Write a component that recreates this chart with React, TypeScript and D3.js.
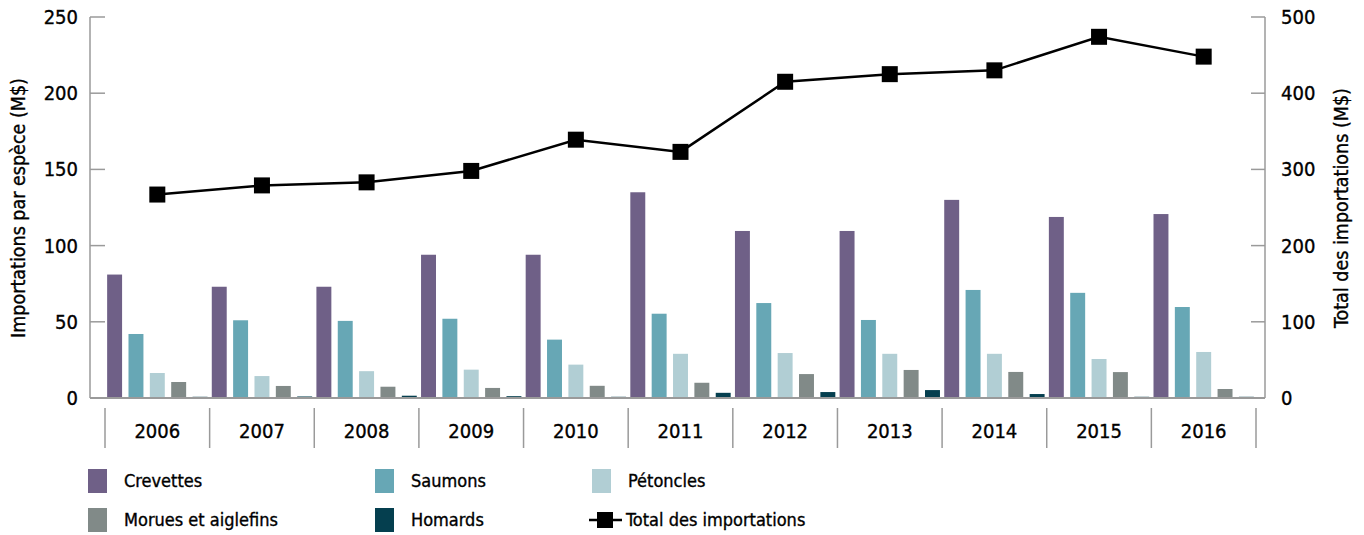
import * as d3 from "d3";
import { useEffect, useRef } from "react";

const years = ["2006", "2007", "2008", "2009", "2010", "2011", "2012", "2013", "2014", "2015", "2016"];
const crevettes = [81, 73, 73, 94, 94, 135, 109.6, 109.6, 130, 118.8, 120.7];
const saumons = [42, 51, 50.6, 52, 38.3, 55.3, 62.3, 51.2, 70.9, 69, 59.7];
const petoncles = [16.4, 14.4, 17.6, 18.6, 21.9, 29, 29.5, 29, 29, 25.6, 30.2];
const morues = [10.5, 7.9, 7.4, 6.6, 8, 10, 15.7, 18.4, 17.1, 17, 5.9];
const homards = [0.8, 1, 1.5, 1.2, 0.8, 3.4, 3.9, 5.2, 2.6, 0.8, 0.8];
const total = [267, 279, 283, 298, 339, 323, 415, 425, 430, 474, 448];
const leftTicks = [0, 50, 100, 150, 200, 250];
const rightTicks = [0, 100, 200, 300, 400, 500];

const seriesNames = ["Crevettes", "Saumons", "Pétoncles", "Morues et aiglefins", "Homards"];
const seriesValues = [crevettes, saumons, petoncles, morues, homards];
const colors = ["#6f6087", "#67a7b5", "#b1ced4", "#818a88", "#053f4f"];

const FONT = "'Liberation Sans Narrow', 'DejaVu Sans Condensed', 'Roboto', sans-serif";

const App = () => {
  const svgRef = useRef(null);

  useEffect(() => {
    const w = 1364;
    const h = 535;
    const svg = d3.select(svgRef.current).attr("width", w).attr("height", h);
    svg.selectAll("*").remove();

    const x0 = 105;
    const x1 = 1256;
    const yTop = 17;
    const yBot = 398;
    const axisColor = "#9a9a9a";

    const xScale = d3.scaleBand().domain(years).range([x0, x1]).padding(0);
    const inner = d3
      .scaleBand()
      .domain(seriesNames)
      .range([0, xScale.bandwidth()])
      .paddingInner(0.3)
      .paddingOuter(0.1);
    const yLeft = d3.scaleLinear().domain([0, 250]).range([yBot, yTop]);
    const yRight = d3.scaleLinear().domain([0, 500]).range([yBot, yTop]);

    // bars
    seriesValues.forEach((vals, si) => {
      svg
        .append("g")
        .selectAll("rect")
        .data(vals)
        .enter()
        .append("rect")
        .attr("x", (d, i) => xScale(years[i]) + inner(seriesNames[si]))
        .attr("y", (d) => yLeft(d))
        .attr("width", inner.bandwidth())
        .attr("height", (d) => yBot - yLeft(d))
        .attr("fill", colors[si]);
    });

    // axes lines
    const ax = svg.append("g").attr("stroke", axisColor).attr("stroke-width", 1.5);
    ax.append("line").attr("x1", 90).attr("x2", 90).attr("y1", yTop).attr("y2", yBot);
    ax.append("line").attr("x1", 1265).attr("x2", 1265).attr("y1", yTop).attr("y2", yBot);
    ax.append("line").attr("x1", 90).attr("x2", 1265).attr("y1", yBot).attr("y2", yBot).attr("stroke-width", 2);
    leftTicks.forEach((t) => {
      ax.append("line").attr("x1", 90).attr("x2", 105).attr("y1", yLeft(t)).attr("y2", yLeft(t));
    });
    rightTicks.forEach((t) => {
      ax.append("line").attr("x1", 1251).attr("x2", 1265).attr("y1", yRight(t)).attr("y2", yRight(t));
    });
    const seps = years.map((y) => xScale(y)).concat([x1]);
    seps.forEach((sx) => {
      ax.append("line").attr("x1", sx).attr("x2", sx).attr("y1", 408).attr("y2", 448);
    });

    const txt = svg.append("g").attr("font-family", FONT).attr("fill", "#000")
      .attr("stroke", "#000").attr("stroke-width", 0.35);

    // tick labels
    txt
      .append("g")
      .selectAll("text")
      .data(leftTicks)
      .enter()
      .append("text")
      .attr("x", 78)
      .attr("y", (d) => yLeft(d))
      .attr("dy", "0.35em")
      .attr("text-anchor", "end")
      .attr("font-size", 20)
      .text((d) => d);
    txt
      .append("g")
      .selectAll("text")
      .data(rightTicks)
      .enter()
      .append("text")
      .attr("x", 1281)
      .attr("y", (d) => yRight(d))
      .attr("dy", "0.35em")
      .attr("text-anchor", "start")
      .attr("font-size", 20)
      .text((d) => d);
    txt
      .append("g")
      .selectAll("text")
      .data(years)
      .enter()
      .append("text")
      .attr("x", (d) => xScale(d) + xScale.bandwidth() / 2)
      .attr("y", 431)
      .attr("dy", "0.35em")
      .attr("text-anchor", "middle")
      .attr("font-size", 20)
      .text((d) => d);

    // axis titles
    txt
      .append("text")
      .attr("transform", "translate(25,208) rotate(-90)")
      .attr("text-anchor", "middle")
      .attr("font-size", 19.5)
      .text("Importations par espèce (M$)");
    txt
      .append("text")
      .attr("transform", "translate(1348,208) rotate(-90)")
      .attr("text-anchor", "middle")
      .attr("font-size", 19.5)
      .text("Total des importations (M$)");

    // total line
    const line = d3
      .line()
      .x((d, i) => xScale(years[i]) + xScale.bandwidth() / 2)
      .y((d) => yRight(d));
    svg
      .append("path")
      .datum(total)
      .attr("d", line)
      .attr("fill", "none")
      .attr("stroke", "#000")
      .attr("stroke-width", 2.5);
    const sq = 16;
    svg
      .append("g")
      .selectAll("rect")
      .data(total)
      .enter()
      .append("rect")
      .attr("x", (d, i) => xScale(years[i]) + xScale.bandwidth() / 2 - sq / 2)
      .attr("y", (d) => yRight(d) - sq / 2)
      .attr("width", sq)
      .attr("height", sq)
      .attr("fill", "#000");

    // legend
    const legendPos = [
      [88, 481],
      [375, 481],
      [592, 481],
      [88, 520],
      [375, 520],
    ];
    const lg = svg.append("g");
    seriesNames.forEach((name, i) => {
      const [lx, ly] = legendPos[i];
      lg.append("rect").attr("x", lx).attr("y", ly - 12).attr("width", 19).attr("height", 24).attr("fill", colors[i]);
      txt.append("text")
        .attr("x", lx + 36)
        .attr("y", ly)
        .attr("dy", "0.35em")
        .attr("font-size", 18)
        .text(name);
    });
    lg.append("line").attr("x1", 589).attr("x2", 622).attr("y1", 520).attr("y2", 520).attr("stroke", "#000").attr("stroke-width", 2.5);
    lg.append("rect").attr("x", 597).attr("y", 512).attr("width", 16).attr("height", 16).attr("fill", "#000");
    txt.append("text")
      .attr("x", 626)
      .attr("y", 520)
      .attr("dy", "0.35em")
      .attr("font-size", 18)
      .text("Total des importations");
  }, []);

  return (
    <div style={{ position: "absolute", left: 0, top: 0 }}>
      <svg ref={svgRef} style={{ display: "block" }}></svg>
    </div>
  );
};

export default App;
